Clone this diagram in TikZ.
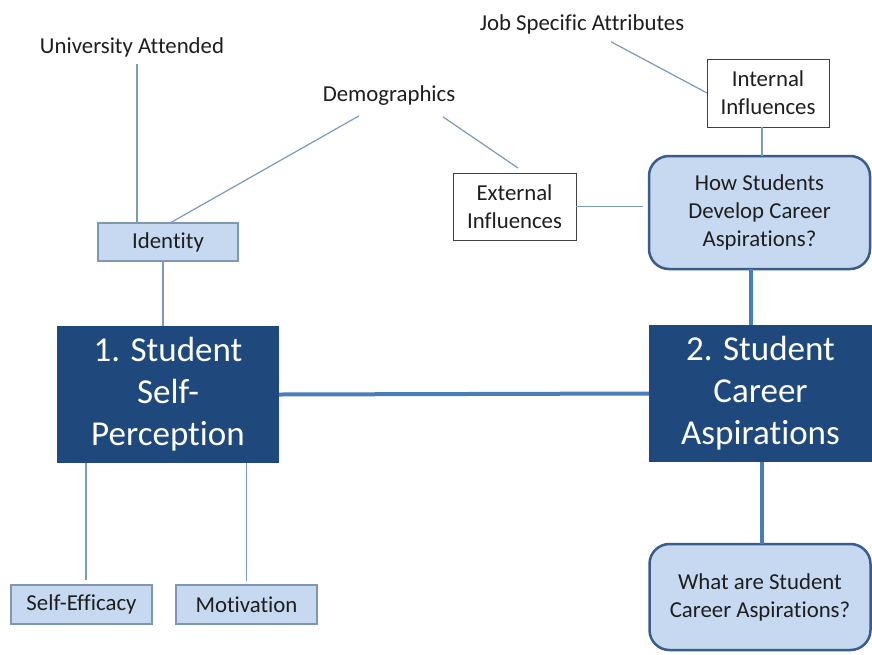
\documentclass[tikz,border=0pt]{standalone}
\usepackage{fontspec}
\setmainfont{Carlito}[Ligatures={NoCommon,NoRequired,NoContextual}]
\definecolor{lightfill}{HTML}{C6D9F1}
\definecolor{lightborder}{HTML}{7F97B2}
\definecolor{thinline}{HTML}{7F99B8}
\definecolor{darkfill}{HTML}{1F497D}
\definecolor{thickline}{HTML}{4A7EBB}
\definecolor{roundborder}{HTML}{385D8A}
\definecolor{txt}{HTML}{1E1E1E}
\definecolor{boxborder}{HTML}{404040}
\begin{document}
\begin{tikzpicture}[x=1pt,y=-1pt,
  every node/.style={inner sep=0pt, outer sep=0pt, align=center, text=txt, font=\fontsize{22.8}{28}\selectfont},
  label/.style={},
  lightbox/.style={draw=lightborder, fill=lightfill, line width=1.2pt},
  whitebox/.style={draw=boxborder, fill=white, line width=1pt},
  roundbox/.style={draw=roundborder, fill=lightfill, line width=2.5pt, rounded corners=20pt},
  darkbox/.style={fill=darkfill, text=white, font=\fontsize{35}{42}\selectfont},
  thin/.style={draw=thinline, line width=1.2pt},
  thick/.style={draw=thickline, line width=4pt}
]
\useasboundingbox (0,0) rectangle (872,654);
\fill[white] (0,0) rectangle (872,654);

\node[label] (univ) at (132,47) {University Attended};
\node[label] (demo) at (389,96) {Demographics};
\node[label] (job) at (582,24) {Job Specific Attributes};

\node[lightbox, minimum width=140pt, minimum height=38pt] (ident) at (168,242) {Identity};
\node[whitebox, minimum width=122pt, minimum height=68pt] (int) at (768,93) {Internal\\Influences};
\node[whitebox, minimum width=123pt, minimum height=67pt] (ext) at (514.5,206.5) {External\\Influences};
\node[roundbox, minimum width=221pt, minimum height=113pt] (how) at (759.5,212.5) {How Students\\Develop Career\\Aspirations?};

\node[darkbox, minimum width=222pt, minimum height=137pt] (s1) at (168,394.5) {1. Student\\Self-\\Perception};
\node[darkbox, minimum width=223pt, minimum height=137pt] (s2) at (760.5,393.5) {2. Student\\Career\\Aspirations};

\node[lightbox, minimum width=141pt, minimum height=39pt] (se) at (81.5,604.5) {Self-Efficacy};
\node[lightbox, minimum width=141pt, minimum height=39pt] (mot) at (246.5,604.5) {Motivation};
\node[roundbox, minimum width=221pt, minimum height=106pt] (what) at (760,597) {What are Student\\Career Aspirations?};

% thin connectors
\draw[thin] ([xshift=5pt,yshift=-7pt]univ.south) -- ([xshift=5pt]univ.south |- ident.north);
\draw[thin] ([xshift=-30pt,yshift=-10pt]demo.south) -- ([xshift=2pt]ident.north);
\draw[thin] ([xshift=54pt,yshift=-11pt]demo.south) -- ([xshift=3.5pt,yshift=5pt]ext.north);
\draw[thin] ([xshift=29pt,yshift=-8pt]job.south) -- ([yshift=0pt]int.west);
\draw[thin] ([xshift=-6pt]int.south) -- ([xshift=-6pt]int.south |- how.north);
\draw[thin, shorten >=6pt] (ext.east) -- (ext.east -| how.west);
\draw[thin] ([xshift=-5pt]ident.south) -- ([xshift=-5pt]ident.south |- s1.north);
\draw[thin, shorten >=5pt] ([xshift=4.5pt]se.north |- s1.south) -- ([xshift=4.5pt]se.north);
\draw[thin, shorten >=4pt] (mot.north |- s1.south) -- (mot.north);

% thick connectors
\draw[thick] ([xshift=-8.5pt]how.south) -- ([xshift=-8.5pt]how.south |- s2.north);
\draw[thick] (s1.east) -- (s2.west);
\draw[thick] ([xshift=1.5pt]what.north |- s2.south) -- ([xshift=1.5pt]what.north);
\end{tikzpicture}
\end{document}
